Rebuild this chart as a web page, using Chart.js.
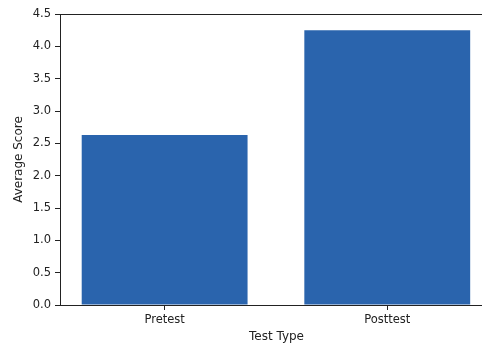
<!DOCTYPE html>
<html>
<head>
<meta charset="utf-8">
<script src="https://cdn.jsdelivr.net/npm/chart.js@4"></script>
<style>
  html, body { margin: 0; padding: 0; background: #fff; overflow: hidden; }
  #wrap { width: 500px; height: 344px; }
</style>
</head>
<body>
<div id="wrap"><canvas id="score-chart"></canvas></div>
<script>
const categories = ["Pretest", "Posttest"];
const avgScores = [2.63, 4.25];
const yTicks = [0, 0.5, 1, 1.5, 2, 2.5, 3, 3.5, 4, 4.5];

const fontFamily = "'DejaVu Sans', sans-serif";
const ink = "#222";

// matplotlib draws a full box round the axes
const frame = {
  id: "frame",
  afterDraw(chart) {
    const { ctx, chartArea: a } = chart;
    ctx.save();
    ctx.strokeStyle = ink;
    ctx.lineWidth = 1;
    ctx.strokeRect(a.left + 0.5, a.top + 0.5, a.right - a.left, a.bottom - a.top);
    ctx.restore();
  }
};

const score_chart = document.getElementById("score-chart");

new Chart(score_chart, {
  type: "bar",
  data: {
    datasets: [
      {
        label: "Average Score",
        data: categories.map((c, i) => ({ x: i, y: avgScores[i] })),
        backgroundColor: "#2a64ad",
        barPercentage: 0.745,
        categoryPercentage: 1,
      },
    ],
  },
  options: {
    responsive: true,
    maintainAspectRatio: false,
    animation: false,
    layout: { padding: { top: 14, right: 7, left: 0, bottom: 0 } },
    plugins: { legend: { display: false }, tooltip: { enabled: false } },
    scales: {
      x: {
        type: "linear",
        offset: false,
        min: -0.47,
        max: 1.475,
        afterBuildTicks: (scale) => {
          scale.ticks = categories.map((c, i) => ({ value: i }));
        },
        afterFit: (scale) => { scale.height = 39; },
        ticks: {
          callback: (v) => categories[v],
          color: ink,
          font: { family: fontFamily, size: 11.5 },
          padding: 3,
          maxRotation: 0,
        },
        grid: { offset: false, drawOnChartArea: false, drawTicks: true, tickLength: 5, color: ink },
        border: { color: ink },
        title: {
          display: true,
          text: "Test Type",
          color: ink,
          font: { family: fontFamily, size: 12 },
          padding: { top: 0, bottom: 0 },
        },
      },
      y: {
        min: 0,
        max: 4.5,
        afterBuildTicks: (scale) => {
          scale.ticks = yTicks.map(v => ({ value: v }));
        },
        afterFit: (scale) => { scale.width = 60; },
        ticks: {
          callback: (v) => v.toFixed(1),
          color: ink,
          font: { family: fontFamily, size: 11.5 },
          padding: 4,
        },
        grid: { drawOnChartArea: false, drawTicks: true, tickLength: 5, color: ink },
        border: { color: ink },
        title: {
          display: true,
          text: "Average Score",
          color: ink,
          font: { family: fontFamily, size: 12 },
          padding: { top: 12, bottom: 0 },
        },
      },
    },
  },
  plugins: [frame],
});
</script>
</body>
</html>
